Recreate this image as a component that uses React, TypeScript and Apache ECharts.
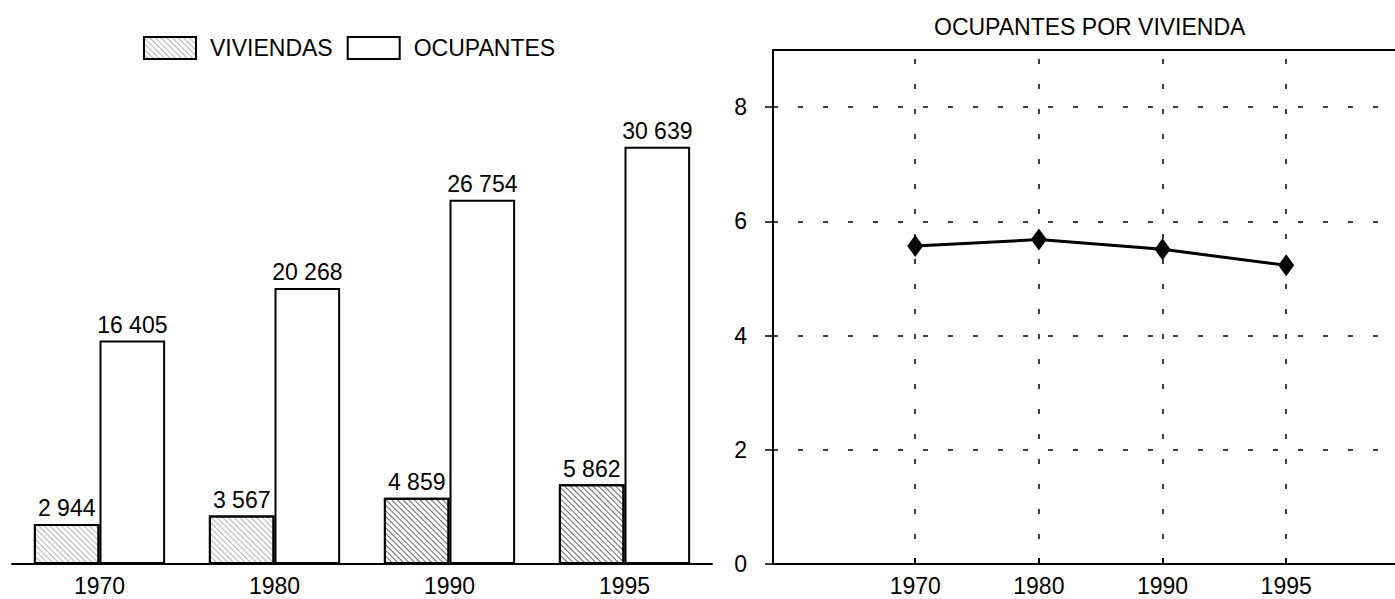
import React, { useEffect, useRef } from "react";
import * as echarts from "echarts";

const years = ["1970", "1980", "1990", "1995"];
const viviendas = [2944, 3567, 4859, 5862];
const ocupantes = [16405, 20268, 26754, 30639];
const ocupantesPorVivienda = [5.57, 5.68, 5.51, 5.23];
const ratioTicks = [0, 2, 4, 6, 8];

const FONT = "'Liberation Sans', Arial, Helvetica, sans-serif";
const FS = 23;

const fmt = (v: number) => String(v).replace(/\B(?=(\d{3})+(?!\d))/g, " ");

export default function App() {
  const ref = useRef<HTMLDivElement>(null);

  useEffect(() => {
    if (!ref.current) return;
    const chart = echarts.init(ref.current, undefined, { renderer: "svg" });

    const lightHatch = {
      symbol: "rect",
      symbolSize: 1,
      color: "rgba(0,0,0,0.3)",
      dashArrayX: [1, 0],
      dashArrayY: [1, 3],
      rotation: Math.PI / 4,
    };
    const denseHatch = {
      symbol: "rect",
      symbolSize: 1,
      color: "rgba(0,0,0,0.6)",
      dashArrayX: [1, 0],
      dashArrayY: [1, 3],
      rotation: Math.PI / 4,
    };

    const labelStyle = {
      show: true,
      position: "top",
      distance: 4,
      fontSize: FS,
      color: "#000",
      fontFamily: FONT,
      formatter: (p: any) => fmt(p.value),
    };

    chart.setOption({
      animation: false,
      backgroundColor: "#fff",
      textStyle: { fontFamily: FONT, color: "#000" },
      title: {
        text: "OCUPANTES POR VIVIENDA",
        left: 929,
        top: 10,
        textStyle: { fontSize: FS, fontWeight: "normal", color: "#000", fontFamily: FONT },
      },
      legend: {
        data: ["VIVIENDAS", "OCUPANTES"],
        left: 138,
        top: 31,
        itemWidth: 52,
        itemHeight: 22,
        itemGap: 14,
        icon: "rect",
        textStyle: { fontSize: FS, color: "#000", fontFamily: FONT, padding: [0, 0, 0, 9] },
      },
      grid: [
        { left: 12, right: 683, top: 101, bottom: 35 },
        { left: 773, right: 0, top: 50, bottom: 35 },
      ],
      xAxis: [
        {
          type: "category",
          gridIndex: 0,
          data: years,
          axisLine: { lineStyle: { color: "#000", width: 2 } },
          axisTick: { show: false },
          axisLabel: { fontSize: FS, color: "#000", margin: 10, fontFamily: FONT },
        },
        {
          type: "value",
          gridIndex: 1,
          min: -1.15,
          max: 3.88,
          axisLine: { show: true, onZero: false, lineStyle: { color: "#000", width: 2 } },
          axisTick: {
            show: true,
            inside: true,
            length: 6,
            customValues: [0, 1, 2, 3],
            lineStyle: { color: "#000", width: 2 },
          },
          axisLabel: {
            fontSize: FS,
            color: "#000",
            margin: 10,
            fontFamily: FONT,
            customValues: [0, 1, 2, 3],
            formatter: (v: number) => years[Math.round(v)] ?? "",
          },
          splitLine: { show: false },
        },
        {
          type: "value",
          gridIndex: 1,
          position: "top",
          min: -1.15,
          max: 3.88,
          axisLine: { show: true, onZero: false, lineStyle: { color: "#000", width: 2 } },
          axisTick: { show: false },
          axisLabel: { show: false },
          splitLine: { show: false },
        },
      ],
      yAxis: [
        {
          type: "value",
          gridIndex: 0,
          min: 0,
          max: 34000,
          show: false,
        },
        {
          type: "value",
          gridIndex: 1,
          min: 0,
          max: 9,
          interval: 1,
          axisLine: { show: true, onZero: false, lineStyle: { color: "#000", width: 2 } },
          axisTick: {
            show: true,
            length: 8,
            customValues: ratioTicks,
            lineStyle: { color: "#000", width: 1.5 },
          },
          axisLabel: {
            fontSize: FS,
            color: "#000",
            margin: 26,
            fontFamily: FONT,
            customValues: ratioTicks,
          },
          splitLine: { show: false },
        },
      ],
      series: [
        {
          name: "VIVIENDAS",
          type: "bar",
          xAxisIndex: 0,
          yAxisIndex: 0,
          barGap: "0%",
          barCategoryGap: "25%",
          itemStyle: { color: "#fff", borderColor: "#000", borderWidth: 2, decal: lightHatch },
          label: labelStyle,
          data: viviendas.map((v, i) => ({
            value: v,
            itemStyle: { decal: i < 2 ? lightHatch : denseHatch },
          })),
        },
        {
          name: "OCUPANTES",
          type: "bar",
          xAxisIndex: 0,
          yAxisIndex: 0,
          barGap: "0%",
          barCategoryGap: "25%",
          itemStyle: { color: "#fff", borderColor: "#000", borderWidth: 2 },
          label: labelStyle,
          data: ocupantes,
        },
        {
          name: "ratio",
          type: "line",
          xAxisIndex: 1,
          yAxisIndex: 1,
          symbol: "diamond",
          symbolSize: [16, 22],
          itemStyle: { color: "#000" },
          lineStyle: { color: "#000", width: 3 },
          data: ocupantesPorVivienda.map((v, i) => [i, v]),
          markLine: {
            silent: true,
            symbol: ["none", "none"],
            label: { show: false },
            lineStyle: { color: "#000", width: 1.5, type: [5, 20] },
            data: [
              ...years.map((_, i) => ({ xAxis: i })),
              ...ratioTicks.filter((t) => t > 0).map((t) => ({ yAxis: t })),
            ],
          },
          z: 3,
        },
      ],
    });

    return () => chart.dispose();
  }, []);

  return (
    <div
      ref={ref}
      style={{ position: "fixed", left: 0, top: 0, width: 1395, height: 599, background: "#fff" }}
    />
  );
}
